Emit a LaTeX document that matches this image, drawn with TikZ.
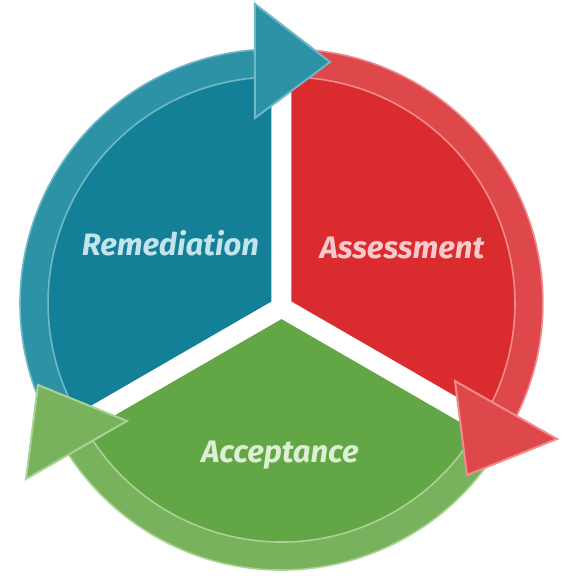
\documentclass[tikz,border=0pt]{standalone}
\usepackage{fontspec}
\setmainfont{Fira Sans}
\definecolor{remfill}{RGB}{19,128,151}
\definecolor{remring}{RGB}{46,146,166}
\definecolor{remline}{RGB}{112,184,200}
\definecolor{remtext}{RGB}{196,228,236}
\definecolor{assfill}{RGB}{218,43,47}
\definecolor{assring}{RGB}{223,72,74}
\definecolor{assline}{RGB}{240,140,142}
\definecolor{asstext}{RGB}{249,202,204}
\definecolor{accfill}{RGB}{98,166,69}
\definecolor{accring}{RGB}{121,178,92}
\definecolor{accline}{RGB}{170,210,150}
\definecolor{acctext}{RGB}{222,240,212}
\begin{document}
\begin{tikzpicture}[x=1pt,y=1pt,
    ring/.style={line width=1.6pt},
    tip/.style={line width=2pt,line join=miter},
    phasetext/.style={font=\fontsize{31}{37}\selectfont\bfseries\itshape,anchor=base}]
    \useasboundingbox (-281.5,-268.6) rectangle (294.5,307.4);
    % the three pie pieces
    \fill[remfill] (-7.45,4.3) -- ++(90:226) arc[start angle=90,end angle=210,radius=226] -- cycle;
    \fill[assfill] (7.45,4.3) -- ++(-30:226) arc[start angle=-30,end angle=90,radius=226] -- cycle;
    \fill[accfill] (0,-8.6) -- ++(210:226) arc[start angle=210,end angle=330,radius=226] -- cycle;
    \draw[white,line width=20pt,line cap=round] (0,0) -- (90:245) (0,0) -- (210:245) (0,0) -- (330:245);
    % arcs round the pieces
    \filldraw[ring,fill=remring,draw=remline,shift={(-7.45,4.3)}] (210:254) arc[start angle=210,end angle=94.5,radius=254]
        -- (94.5:226) arc[start angle=94.5,end angle=210,radius=226] -- cycle;
    \filldraw[ring,fill=assring,draw=assline,shift={(7.45,4.3)}] (90:254) arc[start angle=90,end angle=-28,radius=254]
        -- (-28:226) arc[start angle=-28,end angle=90,radius=226] -- cycle;
    \filldraw[ring,fill=accring,draw=accline,shift={(0,-8.6)}] (330:254) arc[start angle=330,end angle=207,radius=254]
        -- (207:226) arc[start angle=207,end angle=330,radius=226] -- cycle;
    % arrow heads
    \filldraw[tip,fill=remring,draw=remline] (-26.5,303.4) -- (48.5,245.4) -- (-26.5,189.4) -- cycle;
    \filldraw[tip,fill=assring,draw=assline] (173.5,-73.6) -- (275.5,-131.6) -- (185.5,-167.6) -- cycle;
    \filldraw[tip,fill=accring,draw=accline] (-243.5,-77.6) -- (-154.5,-113.6) -- (-255.5,-171.6) -- cycle;
    % labels
    \node[phasetext,text=remtext] (remediation) at (-111,52.4) {Remediation};
    \node[phasetext,text=asstext] (assessment) at (120.5,49.4) {Assessment};
    \node[phasetext,text=acctext] (acceptance) at (-1.5,-154.6) {Acceptance};
\end{tikzpicture}
\end{document}
